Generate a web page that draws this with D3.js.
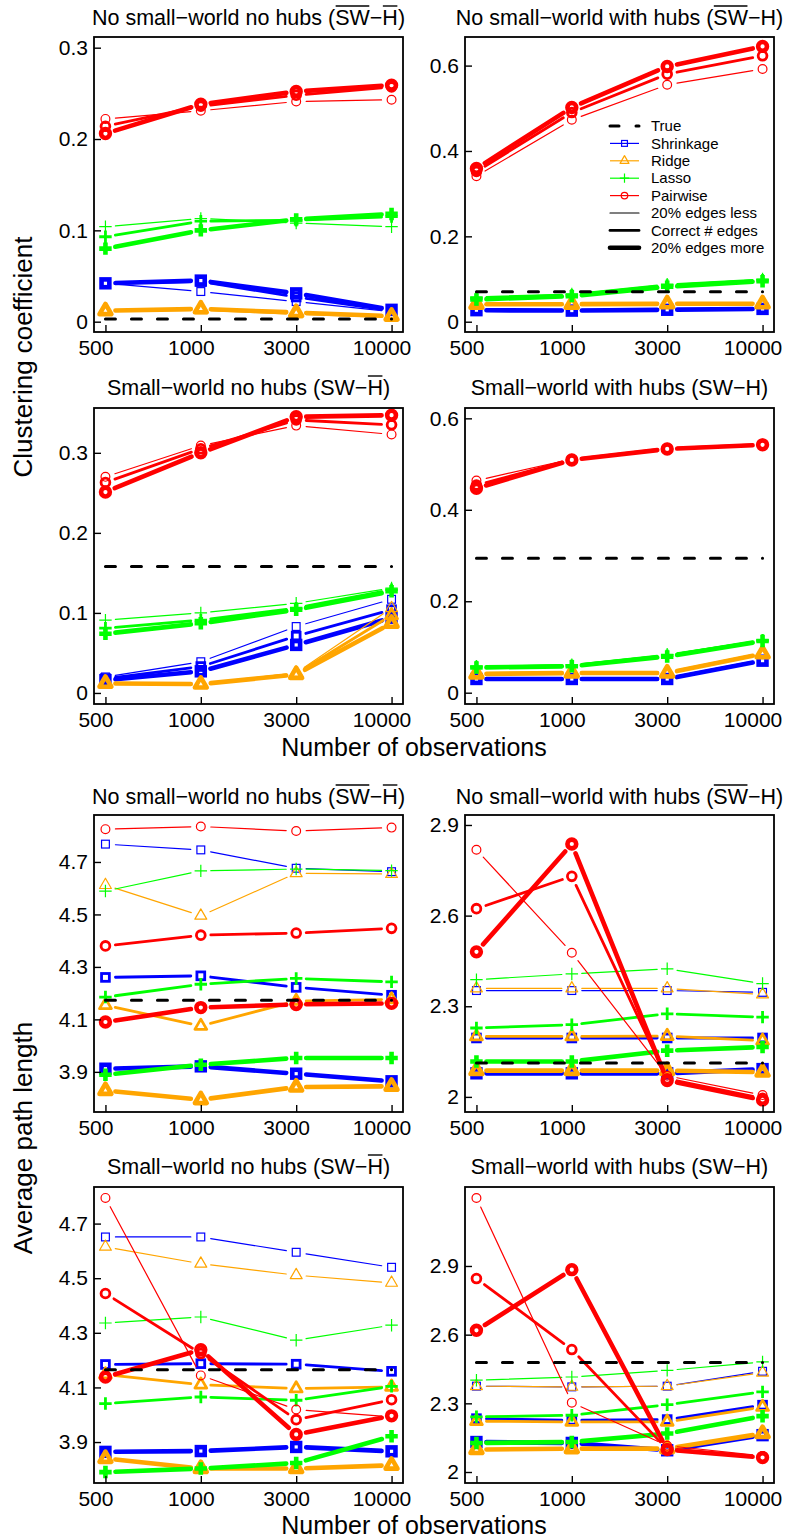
<!DOCTYPE html>
<html><head><meta charset="utf-8">
<script src="https://cdn.jsdelivr.net/npm/d3@7"></script>
<style>
body{margin:0;background:#fff}
svg{display:block}
text{font-family:"Liberation Sans",Arial,Helvetica,sans-serif;fill:#000}
</style>
</head><body>
<svg id="chart" width="788" height="1540"></svg>
<script>
// ---------------- DATA ----------------
const sampleSizes = ["500", "1000", "3000", "10000"];
const methods = ["Shrinkage", "Ridge", "Lasso", "Pairwise"];
const methodColors = ["#0000FF", "#FFA500", "#00FF00", "#FF0000"];
const methodShapes = ["square", "triangle", "plus", "circle"];
const edgeLevels = ["20% edges less", "Correct # edges", "20% edges more"];

// rows: Shrinkage(less, correct, more), Ridge(...), Lasso(...), Pairwise(...); columns: 500,1000,3000,10000
const cc_SWbar_Hbar = [
  [0.042, 0.033, 0.022, 0.011], [0.042, 0.044, 0.027, 0.012], [0.042, 0.045, 0.031, 0.013],
  [0.011, 0.013, 0.009, 0.005], [0.012, 0.0135, 0.009, 0.0055], [0.012, 0.014, 0.010, 0.006],
  [0.104, 0.113, 0.108, 0.104], [0.093, 0.110, 0.111, 0.115], [0.080, 0.100, 0.112, 0.118],
  [0.222, 0.231, 0.241, 0.243], [0.214, 0.236, 0.248, 0.257], [0.206, 0.238, 0.252, 0.259]
];
const cc_SWbar_H = [
  [0.028, 0.027, 0.029, 0.031], [0.027, 0.027, 0.028, 0.031], [0.027, 0.026, 0.028, 0.030],
  [0.042, 0.042, 0.043, 0.043], [0.041, 0.042, 0.042, 0.042], [0.041, 0.041, 0.042, 0.042],
  [0.058, 0.065, 0.088, 0.100], [0.055, 0.062, 0.085, 0.097], [0.052, 0.060, 0.082, 0.095],
  [0.341, 0.473, 0.555, 0.592], [0.352, 0.490, 0.580, 0.623], [0.359, 0.502, 0.598, 0.645]
];
const cc_SW_Hbar = [
  [0.020, 0.039, 0.083, 0.117], [0.018, 0.033, 0.071, 0.104], [0.016, 0.027, 0.060, 0.094],
  [0.012, 0.011, 0.025, 0.106], [0.012, 0.011, 0.024, 0.097], [0.012, 0.011, 0.023, 0.087],
  [0.091, 0.100, 0.112, 0.131], [0.081, 0.091, 0.106, 0.129], [0.074, 0.087, 0.104, 0.127],
  [0.270, 0.309, 0.334, 0.323], [0.263, 0.305, 0.341, 0.335], [0.251, 0.300, 0.345, 0.347]
];
const cc_SW_H = [
  [0.032, 0.032, 0.032, 0.072], [0.031, 0.031, 0.031, 0.071], [0.030, 0.030, 0.030, 0.070],
  [0.043, 0.045, 0.045, 0.087], [0.042, 0.044, 0.044, 0.086], [0.041, 0.043, 0.043, 0.085],
  [0.058, 0.061, 0.084, 0.115], [0.056, 0.059, 0.081, 0.114], [0.055, 0.058, 0.079, 0.113],
  [0.464, 0.511, 0.534, 0.543], [0.454, 0.510, 0.534, 0.543], [0.447, 0.509, 0.533, 0.542]
];
const apl_SWbar_Hbar = [
  [4.768, 4.746, 4.676, 4.663], [4.260, 4.266, 4.222, 4.192], [3.912, 3.921, 3.893, 3.864],
  [4.612, 4.495, 4.657, 4.654], [4.154, 4.075, 4.170, 4.176], [3.829, 3.794, 3.842, 3.845],
  [4.589, 4.666, 4.673, 4.667], [4.185, 4.234, 4.256, 4.243], [3.889, 3.927, 3.953, 3.953],
  [4.825, 4.835, 4.818, 4.831], [4.380, 4.421, 4.429, 4.447], [4.090, 4.145, 4.157, 4.161]
];
const apl_SWbar_H = [
  [2.352, 2.352, 2.352, 2.346], [2.195, 2.195, 2.195, 2.195], [2.078, 2.078, 2.078, 2.092],
  [2.359, 2.359, 2.359, 2.339], [2.200, 2.200, 2.201, 2.186], [2.087, 2.087, 2.087, 2.082],
  [2.388, 2.407, 2.424, 2.375], [2.228, 2.239, 2.275, 2.264], [2.117, 2.117, 2.153, 2.165],
  [2.818, 2.477, 2.070, 2.006], [2.623, 2.730, 2.060, 1.995], [2.480, 2.837, 2.054, 1.990]
];
const apl_SW_Hbar = [
  [4.651, 4.651, 4.595, 4.540], [4.184, 4.187, 4.185, 4.159], [3.864, 3.867, 3.882, 3.866],
  [4.615, 4.553, 4.511, 4.483], [4.147, 4.110, 4.096, 4.102], [3.840, 3.803, 3.803, 3.815],
  [4.336, 4.358, 4.273, 4.328], [4.041, 4.065, 4.053, 4.104], [3.790, 3.803, 3.823, 3.921],
  [4.794, 4.144, 4.019, 3.992], [4.444, 4.224, 3.982, 4.055], [4.138, 4.238, 3.928, 3.996]
];
const apl_SW_H = [
  [2.375, 2.372, 2.375, 2.440], [2.233, 2.226, 2.229, 2.292], [2.131, 2.127, 2.095, 2.161],
  [2.375, 2.372, 2.375, 2.434], [2.222, 2.219, 2.219, 2.284], [2.098, 2.102, 2.102, 2.168],
  [2.401, 2.415, 2.444, 2.481], [2.241, 2.248, 2.294, 2.350], [2.127, 2.131, 2.168, 2.244],
  [3.197, 2.303, 2.115, 2.070], [2.845, 2.535, 2.100, 2.066], [2.619, 2.884, 2.098, 2.063]
];
const trueValues = [0.003, 0.070, 0.158, 0.294, 4.173, 2.112, 4.165, 2.478];

const yTickValues = [
  [0, 0.1, 0.2, 0.3], [0, 0.2, 0.4, 0.6], [0, 0.1, 0.2, 0.3], [0, 0.2, 0.4, 0.6],
  [3.9, 4.1, 4.3, 4.5, 4.7], [2.0, 2.3, 2.6, 2.9], [3.9, 4.1, 4.3, 4.5, 4.7], [2.0, 2.3, 2.6, 2.9]
];
const yLimits = [
  [-0.0113, 0.3117], [-0.0241, 0.667], [-0.0138, 0.356], [-0.0247, 0.6226],
  [3.747, 4.879], [1.950, 2.933], [3.750, 4.834], [1.952, 3.245]
];
// title pieces: [text, overlined?]
const titleSWbarHbar = [["No small\u2212world no hubs (", 0], ["SW", 1], ["\u2212", 0], ["H", 1], [")", 0]];
const titleSWbarH = [["No small\u2212world with hubs (", 0], ["SW", 1], ["\u2212H)", 0]];
const titleSWHbar = [["Small\u2212world no hubs (SW\u2212", 0], ["H", 1], [")", 0]];
const titleSWH = [["Small\u2212world with hubs (SW\u2212H)", 0]];
const panelTitles = [titleSWbarHbar, titleSWbarH, titleSWHbar, titleSWH, titleSWbarHbar, titleSWbarH, titleSWHbar, titleSWH];
const panelData = [cc_SWbar_Hbar, cc_SWbar_H, cc_SW_Hbar, cc_SW_H, apl_SWbar_Hbar, apl_SWbar_H, apl_SW_Hbar, apl_SW_H];
const yAxisLabels = ["Clustering coefficient", "Average path length"];
const xAxisLabel = "Number of observations";

// ---------------- LAYOUT ----------------
const svg = d3.select("#chart");
const cols = [{l: 94, r: 403}, {l: 465, r: 774}];
const rows = [{t: 37, b: 332}, {t: 408, b: 704}, {t: 815, b: 1112}, {t: 1187, b: 1483}];
const titleBase = [25, 395, 804, 1174];
const lineW = [1.2, 2.8, 4.6];
const R = 4.4;
const GAP = 10;
const tickFont = 21;

function marker(g, shape, x, y, color, sw, s) {
  const r = R * (s || 1);
  if (shape === "circle") {
    g.append("circle").attr("cx", x).attr("cy", y).attr("r", r)
      .attr("fill", "none").attr("stroke", color).attr("stroke-width", sw);
  } else if (shape === "square") {
    const h = r * 0.886;
    g.append("rect").attr("x", x - h).attr("y", y - h).attr("width", 2 * h).attr("height", 2 * h)
      .attr("fill", "none").attr("stroke", color).attr("stroke-width", sw);
  } else if (shape === "triangle") {
    const tr = 1.555 * r, xc = 1.347 * r, yc = 0.778 * r;
    g.append("path").attr("d", `M${x},${y - tr}L${x + xc},${y + yc}L${x - xc},${y + yc}Z`)
      .attr("fill", "none").attr("stroke", color).attr("stroke-width", sw).attr("stroke-linejoin", "round");
  } else if (shape === "plus") {
    const a = Math.SQRT2 * r;
    g.append("path").attr("d", `M${x - a},${y}H${x + a}M${x},${y - a}V${y + a}`)
      .attr("fill", "none").attr("stroke", color).attr("stroke-width", sw);
  }
}

function drawTitle(cx, y, parts) {
  const t = svg.append("text").attr("x", cx).attr("y", y).attr("text-anchor", "middle")
    .attr("font-size", 21.5);
  let idx = 0; const bars = [];
  parts.forEach(([s, o]) => {
    t.append("tspan").text(s);
    if (o) bars.push([idx, idx + s.length]);
    idx += s.length;
  });
  const node = t.node();
  bars.forEach(([a, b]) => {
    const x0 = node.getStartPositionOfChar(a).x, x1 = node.getEndPositionOfChar(b - 1).x;
    svg.append("line").attr("x1", x0 + 0.5).attr("x2", x1 - 0.5).attr("y1", y - 19).attr("y2", y - 19)
      .attr("stroke", "#000").attr("stroke-width", 1.4);
  });
}

panelData.forEach((data, p) => {
  const row = rows[Math.floor(p / 2)], col = cols[p % 2];
  const w = col.r - col.l, pad = w * 0.12 / 3.24;
  const x = d3.scalePoint().domain(sampleSizes).range([col.l + pad, col.r - pad]);
  const y = d3.scaleLinear().domain(yLimits[p]).range([row.b, row.t]);
  const g = svg.append("g");

  // series (type "b": lines with gaps around points)
  methods.forEach((m, mi) => {
    edgeLevels.forEach((lv, li) => {
      const vals = data[mi * 3 + li];
      const pts = vals.map((v, i) => [x(sampleSizes[i]), y(v)]);
      const sw = lineW[li], color = methodColors[mi];
      for (let i = 0; i < pts.length - 1; i++) {
        const [x0, y0] = pts[i], [x1, y1] = pts[i + 1];
        const dx = x1 - x0, dy = y1 - y0, d = Math.hypot(dx, dy);
        if (d <= 2 * GAP) continue;
        const ux = dx / d, uy = dy / d;
        g.append("line")
          .attr("x1", x0 + ux * GAP).attr("y1", y0 + uy * GAP)
          .attr("x2", x1 - ux * GAP).attr("y2", y1 - uy * GAP)
          .attr("stroke", color).attr("stroke-width", sw).attr("stroke-linecap", "round");
      }
      pts.forEach(([px, py]) => marker(g, methodShapes[mi], px, py, color, sw));
    });
  });

  // true value (dashed)
  g.append("line")
    .attr("x1", x(sampleSizes[0])).attr("x2", x(sampleSizes[3]))
    .attr("y1", y(trueValues[p])).attr("y2", y(trueValues[p]))
    .attr("stroke", "#000").attr("stroke-width", 3).attr("stroke-dasharray", "10,16")
    .attr("stroke-linecap", "round");

  // frame
  svg.append("rect").attr("x", col.l).attr("y", row.t).attr("width", w).attr("height", row.b - row.t)
    .attr("fill", "none").attr("stroke", "#000").attr("stroke-width", 1.8);

  // axes (ticks inward)
  const ya = svg.append("g").attr("transform", `translate(${col.l},0)`)
    .call(d3.axisLeft(y).tickValues(yTickValues[p]).tickSizeInner(-7).tickSizeOuter(0).tickPadding(6)
      .tickFormat(d => String(+d.toFixed(2))));
  ya.select(".domain").remove();
  ya.selectAll("line").attr("stroke", "#000").attr("stroke-width", 1.4);
  ya.selectAll("text").attr("font-size", tickFont).attr("font-family", null);

  const xa = svg.append("g").attr("transform", `translate(0,${row.b})`)
    .call(d3.axisBottom(x).tickSizeInner(-7).tickSizeOuter(0).tickPadding(8));
  xa.select(".domain").remove();
  xa.selectAll("line").attr("stroke", "#000").attr("stroke-width", 1.4);
  xa.selectAll("text").attr("font-size", tickFont).attr("font-family", null).attr("x", -10);

  drawTitle((col.l + col.r) / 2, titleBase[Math.floor(p / 2)], panelTitles[p]);
});

// y-axis labels
[[357, 0], [1138, 1]].forEach(([cy, k]) => {
  svg.append("text").attr("transform", `translate(32,${cy}) rotate(-90)`)
    .attr("text-anchor", "middle").attr("font-size", 26).text(yAxisLabels[k]);
});
// x-axis labels
[756, 1534].forEach(by => {
  svg.append("text").attr("x", 414).attr("y", by).attr("text-anchor", "middle")
    .attr("font-size", 25).text(xAxisLabel);
});

// legend (top-right panel)
const lg = svg.append("g");
const legY0 = 126, legStep = 17.4, lx0 = 610, lx1 = 639, ltx = 651;
lg.append("line").attr("x1", lx0).attr("x2", lx1).attr("y1", legY0).attr("y2", legY0)
  .attr("stroke", "#000").attr("stroke-width", 3).attr("stroke-dasharray", "9,17").attr("stroke-linecap", "round");
lg.append("text").attr("x", ltx).attr("y", legY0).attr("dy", "0.35em").attr("font-size", 15).text("True");
methods.forEach((m, i) => {
  const yy = legY0 + legStep * (i + 1);
  lg.append("line").attr("x1", lx0).attr("x2", lx1).attr("y1", yy).attr("y2", yy)
    .attr("stroke", methodColors[i]).attr("stroke-width", 1.2);
  marker(lg, methodShapes[i], (lx0 + lx1) / 2, yy, methodColors[i], 1.2, 0.75);
  lg.append("text").attr("x", ltx).attr("y", yy).attr("dy", "0.35em").attr("font-size", 15).text(m);
});
edgeLevels.forEach((lv, i) => {
  const yy = legY0 + legStep * (i + 5);
  lg.append("line").attr("x1", lx0).attr("x2", lx1).attr("y1", yy).attr("y2", yy)
    .attr("stroke", "#000").attr("stroke-width", lineW[i]).attr("stroke-linecap", "round");
  lg.append("text").attr("x", ltx).attr("y", yy).attr("dy", "0.35em").attr("font-size", 15).text(lv);
});
</script>
</body></html>
